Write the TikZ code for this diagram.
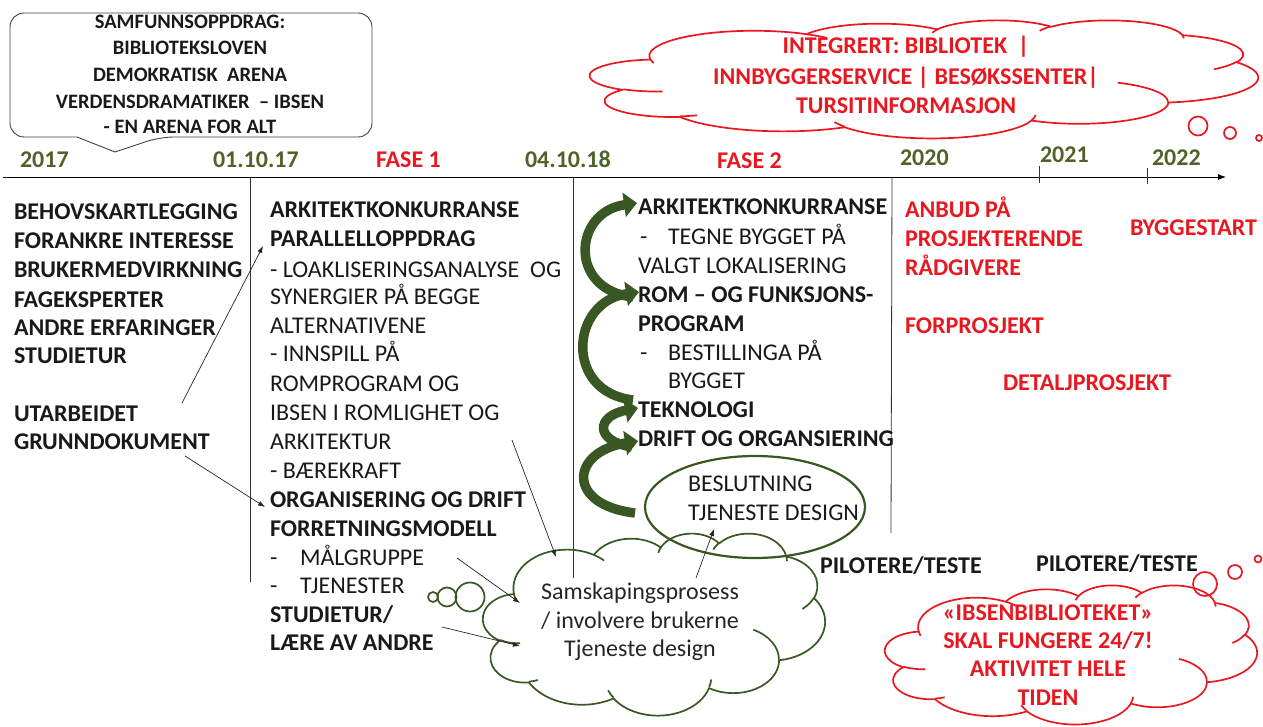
\documentclass[tikz,border=0pt]{standalone}
\usepackage{fontspec}
\setmainfont{Carlito}
\usetikzlibrary{shapes.geometric,arrows.meta}
\definecolor{dgreen}{RGB}{56,87,35}
\definecolor{tgreen}{RGB}{79,98,40}
\definecolor{myred}{RGB}{232,24,32}
\definecolor{cgray}{RGB}{64,64,64}
% elliptical arc with DrawingML-style (visual) angles
\newcommand\ooarc[4]{arc[x radius=#1,y radius=#2,start angle={atan2((#1)*sin(#3),(#2)*cos(#3))},delta angle={mod(atan2((#1)*sin((#3)+(#4)),(#2)*cos((#3)+(#4)))-atan2((#1)*sin(#3),(#2)*cos(#3))+720,360)}]}
% cloud outline in a box: x0 y0 w h style
\newcommand\pcloud[5]{%
\begin{scope}[shift={(#1,#2)},xscale=#3/100,yscale=#4/100]
\draw[#5,line join=round] (9.0278,33.2639) \ooarc{15.632}{21.273}{-190.4875}{123.7805} \ooarc{12.345}{16.822}{-144.1024}{89.9452} \ooarc{10.104}{13.762}{-145.8079}{99.7230} \ooarc{11.243}{15.266}{-130.9861}{117.2417} \ooarc{12.345}{16.836}{-78.7089}{109.0269} \ooarc{15.683}{21.343}{-46.2673}{130.269} \ooarc{13.391}{18.211}{0.625}{114.033} \ooarc{15.630}{21.331}{22.4516}{115.1726} \ooarc{17.870}{24.405}{66.2426}{75.7110} \ooarc{10.093}{13.699}{-274.9421}{146.7356} \ooarc{10.058}{13.762}{-246.8285}{152.5189} -- cycle;
\draw[#5] (10.863,60.595) \ooarc{10.058}{13.762}{86.742}{26.4295}
 (16.037,80.785) \ooarc{10.093}{13.699}{73.6105}{11.4475}
 (38.144,90.486) \ooarc{15.630}{21.331}{137.6242}{14.0811}
 (66.729,80.442) \ooarc{15.630}{21.331}{6.4533}{15.9984}
 (79.002,53.134) \ooarc{13.391}{18.211}{-70.2924}{70.9174}
 (96.755,35.542) \ooarc{12.345}{16.836}{30.318}{27.7515}
 (88.713,12.560) \ooarc{11.243}{15.266}{-13.7443}{14.8589}
 (67.310,9.148) \ooarc{11.243}{15.266}{-149.1815}{18.1954}
 (51.252,10.926) \ooarc{10.104}{13.762}{-163.4943}{17.6864}
 (32.407,12.019) \ooarc{15.632}{21.273}{-66.7070}{12.3194}
 (9.553,36.549) \ooarc{15.632}{21.273}{157.6544}{11.8582};
\end{scope}}
\begin{document}
\begin{tikzpicture}[x=1pt,y=-1pt,
  every node/.style={inner sep=0pt,outer sep=0pt},
  B/.style={font=\fontsize{24}{29}\selectfont\bfseries,anchor=base west,text=black!90},
  N/.style={font=\fontsize{24}{29}\selectfont,anchor=base west,text=black!90},
  R/.style={font=\fontsize{24}{29}\selectfont\bfseries,anchor=base west,text=myred},
  G/.style={font=\fontsize{24}{29}\selectfont\bfseries,anchor=base west,text=tgreen},
  CT/.style={font=\fontsize{20.5}{24}\selectfont\bfseries,anchor=base,text=black!90},
  CR/.style={font=\fontsize{24}{29}\selectfont\bfseries,anchor=base,text=myred},
  CN/.style={font=\fontsize{24}{29}\selectfont,anchor=base,text=black!85},
  conn/.style={draw=black!85,line width=0.7pt,-{Latex[length=7pt,width=5pt]}},
  garrow/.style={draw=dgreen,line width=9.5pt,-{Triangle[length=13pt,width=24pt]}},
  vline/.style={draw=black!80,line width=0.8pt},
  rline/.style={draw=myred,line width=1.7pt},
  gline/.style={draw=dgreen,line width=1.7pt}]
\useasboundingbox (0,0) rectangle (1263,727);

% callout
\draw[cgray,line width=0.9pt,rounded corners=14pt] (77,137) -- (10,137) -- (10,13) -- (372,13) -- (372,137) -- (160,137) [sharp corners] -- (115,152) -- cycle;
\node[CT] (c1) at (190,29) {SAMFUNNSOPPDRAG:};
\node[CT] (c2) at (190,55) {BIBLIOTEKSLOVEN};
\node[CT] (c3) at (190,82) {DEMOKRATISK\ \ ARENA};
\node[CT] (c4) at (190,109) {VERDENSDRAMATIKER\ \ – IBSEN};
\node[CT] (c5) at (190,134) {- EN ARENA FOR ALT};

% top red cloud
\pcloud{590}{20}{668}{118}{rline}
\node[CR] (r1) at (906,54) {INTEGRERT: BIBLIOTEK\ \ |};
\node[CR] (r2) at (906,85) {INNBYGGERSERVICE | BESØKSSENTER|};
\node[CR] (r3) at (906,114) {TURSITINFORMASJON};
\draw[rline] (1198,126) circle[radius=9.5pt];
\draw[rline] (1230,133) circle[radius=6pt];
\draw[rline] (1259,138) circle[radius=3pt];

% timeline
\coordinate (t0) at (3,177);
\coordinate (t1) at (1226,177);
\draw[line width=0.9pt,-{Latex[length=8pt,width=6pt]}] (t0) -- (t1);
\draw[vline] (1039,166) -- (1039,183);
\draw[vline] (1147,168) -- (1147,184);
\node[G] (y1) at (20,168) {2017};
\node[G] (y2) at (213,168) {01.10.17};
\node[R] (f1) at (376,168) {FASE 1};
\node[G] (y3) at (525,168) {04.10.18};
\node[R] (f2) at (717,169) {FASE 2};
\node[G] (y4) at (900,166) {2020};
\node[G] (y5) at (1040,163) {2021};
\node[G] (y6) at (1152,166) {2022};

% vertical separators
\draw[vline] (250,177) -- (250,582);
\draw[vline] (573,177) -- (573,578);
\draw[vline] (892,177) -- (891,533);

% left column
\node[B] (l1) at (14,220) {BEHOVSKARTLEGGING};
\node[B] (l2) at (14,249) {FORANKRE INTERESSE};
\node[B] (l3) at (14,278) {BRUKERMEDVIRKNING};
\node[B] (l4) at (14,307) {FAGEKSPERTER};
\node[B] (l5) at (14,335) {ANDRE ERFARINGER};
\node[B] (l6) at (14,363) {STUDIETUR};
\node[B] (l7) at (14,421) {UTARBEIDET};
\node[B] (l8) at (14,449) {GRUNNDOKUMENT};

% column 2
\node[B] (m1) at (270,218) {ARKITEKTKONKURRANSE};
\node[B] (m2) at (270,247) {PARALLELLOPPDRAG};
\node[N] (m3) at (270,277) {- LOAKLISERINGSANALYSE\ \ OG};
\node[N] (m4) at (270,305) {SYNERGIER PÅ BEGGE};
\node[N] (m5) at (270,333) {ALTERNATIVENE};
\node[N] (m6) at (270,361) {- INNSPILL PÅ};
\node[N] (m7) at (270,391) {ROMPROGRAM OG};
\node[N] (m8) at (270,420) {IBSEN I ROMLIGHET OG};
\node[N] (m9) at (270,449) {ARKITEKTUR};
\node[N] (m10) at (270,478) {- BÆREKRAFT};
\node[B] (m11) at (270,507) {ORGANISERING OG DRIFT};
\node[B] (m12) at (270,536) {FORRETNINGSMODELL};
\node[N] (m13d) at (270,565) {-};
\node[N] (m13) at (300,565) {MÅLGRUPPE};
\node[N] (m14d) at (270,593) {-};
\node[N] (m14) at (300,593) {TJENESTER};
\node[B] (m15) at (270,622) {STUDIETUR/};
\node[B] (m16) at (270,650) {LÆRE AV ANDRE};

% column 3
\node[B] (k1) at (638,215) {ARKITEKTKONKURRANSE};
\node[N] (k2d) at (640,245) {-};
\node[N] (k2) at (668,245) {TEGNE BYGGET PÅ};
\node[N] (k3) at (638,273) {VALGT LOKALISERING};
\node[B] (k4) at (638,302) {ROM – OG FUNKSJONS-};
\node[B] (k5) at (638,331) {PROGRAM};
\node[N] (k6d) at (640,360) {-};
\node[N] (k6) at (668,360) {BESTILLINGA PÅ};
\node[N] (k7) at (668,388) {BYGGET};
\node[B] (k8) at (638,417) {TEKNOLOGI};
\node[B] (k9) at (638,446) {DRIFT OG ORGANSIERING};

% green curved arrows
\draw[garrow] (633,297) .. controls (568,290) and (573,212) .. (637,203);
\draw[garrow] (633,400) .. controls (564,392) and (570,302) .. (639,292);
\draw[garrow] (632,447) .. controls (594,441) and (596,416) .. (638,408);
\draw[garrow] (635,513) .. controls (566,505) and (570,452) .. (638,441);

% ellipse
\node[draw=dgreen,line width=2.2pt,ellipse,minimum width=220pt,minimum height=102pt] (el) at (755,507) {};
\node[N] (e1) at (688,491) {BESLUTNING};
\node[N] (e2) at (688,520) {TJENESTE DESIGN};

% column 4
\node[R] (p1) at (905,218) {ANBUD PÅ};
\node[R] (p2) at (905,247) {PROSJEKTERENDE};
\node[R] (p3) at (905,276) {RÅDGIVERE};
\node[R] (p4) at (905,333) {FORPROSJEKT};
\node[R] (p5) at (1003,390) {DETALJPROSJEKT};
\node[R] (p6) at (1130,236) {BYGGESTART};
\node[B] (pt1) at (820,573) {PILOTERE/TESTE};
\node[B] (pt2) at (1036,571) {PILOTERE/TESTE};

% green cloud
\pcloud{483}{533}{342}{182}{gline}
\node[CN] (s1) at (640,599) {Samskapingsprosess};
\node[CN] (s2) at (640,628) {/ involvere brukerne};
\node[CN] (s3) at (640,656) {Tjeneste design};
\draw[gline] (433,597) circle[radius=5pt];
\draw[gline] (447,597) circle[radius=9.5pt];
\draw[gline] (470,597) circle[radius=14.5pt];

% bottom red cloud
\pcloud{885}{585}{372}{139}{rline}
\node[CR] (b1) at (1048,620) {«IBSENBIBLIOTEKET»};
\node[CR] (b2) at (1048,648) {SKAL FUNGERE 24/7!};
\node[CR] (b3) at (1048,676) {AKTIVITET HELE};
\node[CR] (b4) at (1048,705) {TIDEN};
\draw[rline] (1205,584) circle[radius=12pt];
\draw[rline] (1235,572) circle[radius=7pt];
\draw[rline] (1258,559) circle[radius=3.5pt];

% thin connectors
\coordinate (a1s) at (182,403);
\coordinate (a1e) at (263,246);
\coordinate (a2s) at (185,456);
\coordinate (a2e) at (265,507);
\coordinate (a3s) at (512,440);
\coordinate (a3e) at (556,557);
\coordinate (a4s) at (457,558);
\coordinate (a4e) at (520,603);
\coordinate (a5s) at (442,627);
\coordinate (a5e) at (520,646);
\coordinate (a6s) at (696,578);
\coordinate (a6e) at (714,529);
\draw[conn] (a1s) -- (a1e);
\draw[conn] (a2s) -- (a2e);
\draw[conn] (a3s) -- (a3e);
\draw[conn] (a4s) -- (a4e);
\draw[conn] (a5s) -- (a5e);
\draw[conn] (a6s) -- (a6e);
\end{tikzpicture}
\end{document}
